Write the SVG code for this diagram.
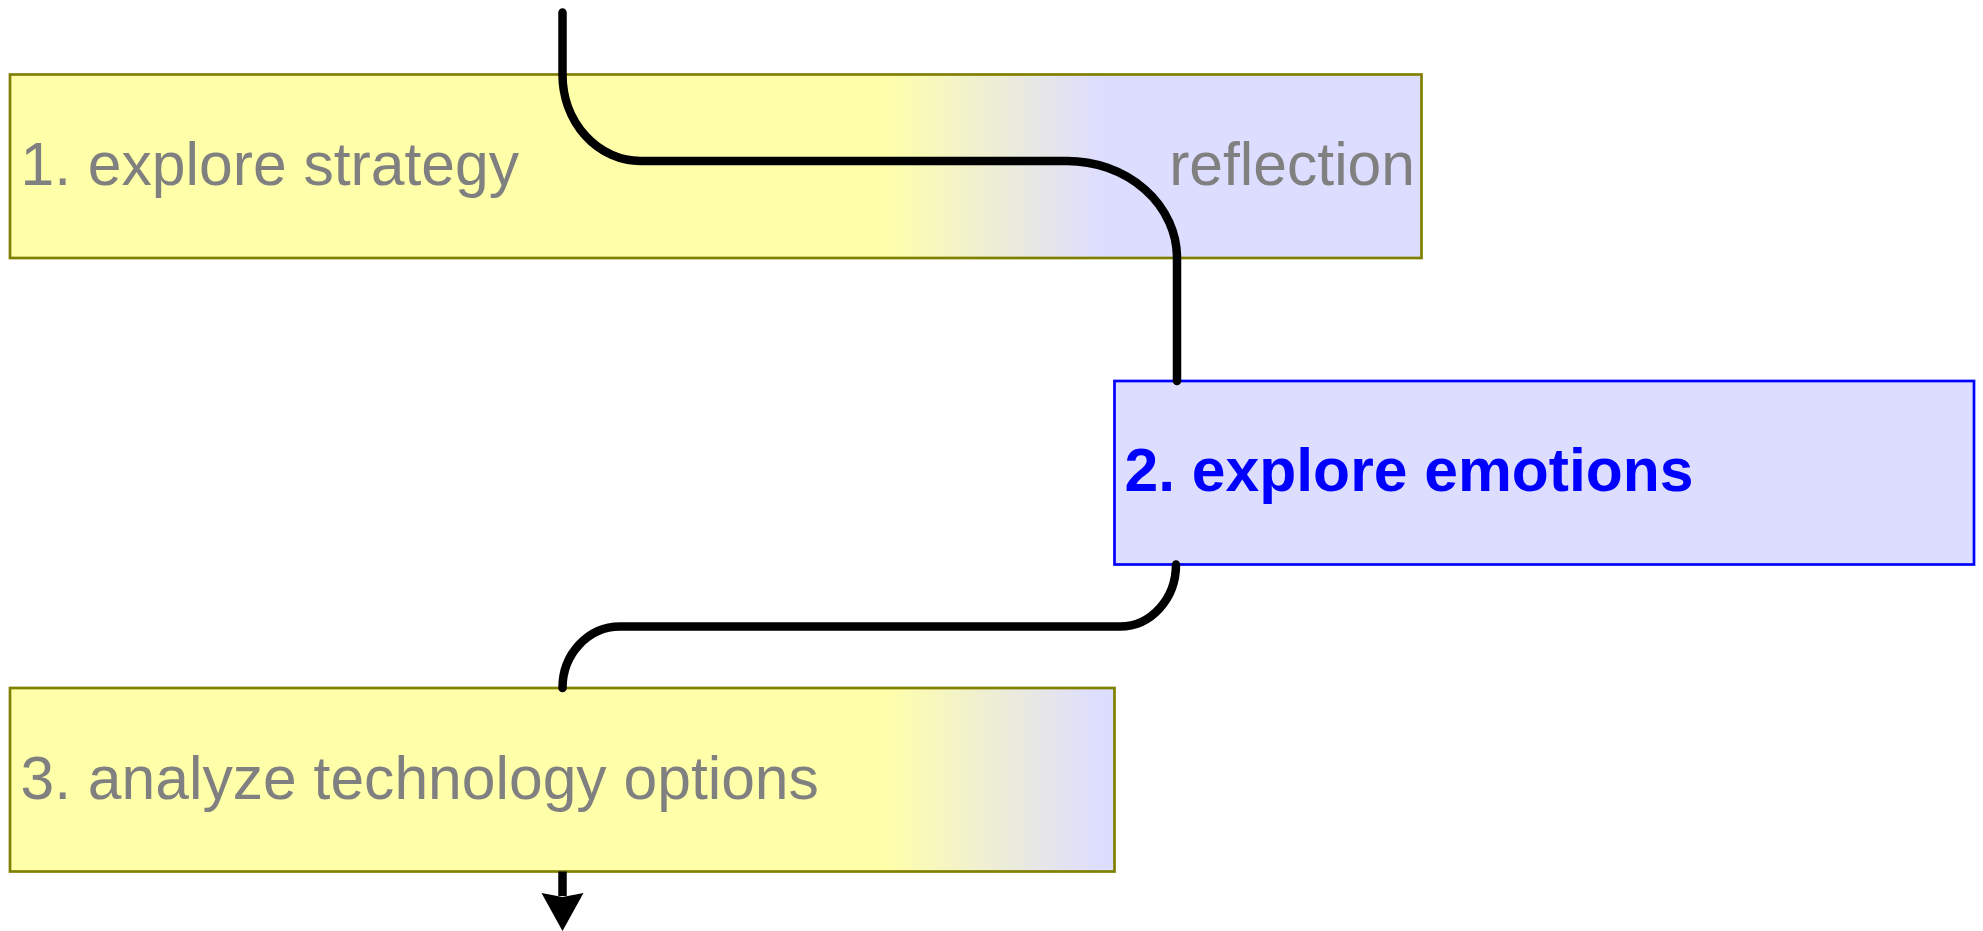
<svg xmlns="http://www.w3.org/2000/svg" width="1983" height="931" viewBox="0 0 1983 931">
  <style>
    .box { stroke: #808000; stroke-width: 2.7; }
    .focus { fill: #DDDDFF; stroke: #0000FF; stroke-width: 2.7; }
    .label { font-family: "Liberation Sans", Arial, sans-serif; font-size: 60.6px; fill: #808080; }
    .label-focus { font-family: "Liberation Sans", Arial, sans-serif; font-size: 60.6px; font-weight: bold; fill: #0000FF; }
    .flow { fill: none; stroke: #000000; stroke-width: 8.5; stroke-linecap: round; }
    .tail { fill: none; stroke: #000000; stroke-width: 8.5; }
  </style>
  <defs>
    <!-- yellow to lavender fade, shared by both pale boxes -->
    <linearGradient id="fade" gradientUnits="userSpaceOnUse" x1="885" y1="0" x2="1100" y2="0">
      <stop offset="0" stop-color="#FFFFAA"/>
      <stop offset="1" stop-color="#DDDDFF"/>
    </linearGradient>
  </defs>

  <g id="node-1">
    <rect class="box" x="10" y="74.5" width="1411.5" height="183.5" fill="url(#fade)"/>
    <text class="label" x="20.5" y="184.5">1. explore strategy</text>
    <text class="label" x="1415" y="184.5" text-anchor="end">reflection</text>
  </g>

  <g id="node-2">
    <rect class="focus" x="1114.5" y="381" width="859.5" height="183.5"/>
    <text class="label-focus" x="1124.5" y="490.5">2. explore emotions</text>
  </g>

  <g id="node-3">
    <rect class="box" x="10" y="688" width="1104.5" height="183.5" fill="url(#fade)"/>
    <text class="label" x="20.5" y="798.5">3. analyze technology options</text>
  </g>

  <g id="connectors">
    <path class="flow" d="M562.5,12.5 V74.5 A78,86.5 0 0 0 640.5,161 H1067 A110,97 0 0 1 1177,258 V381"/>
    <path class="flow" d="M1176,564.5 A56,62 0 0 1 1120,626.5 H620 A57.5,61.5 0 0 0 562.5,688"/>
    <path class="tail" d="M562.5,871.5 V896"/>
    <path d="M562.5,931 L541.5,893 L562.5,897 L583.5,893 Z" fill="#000000"/>
  </g>
</svg>
